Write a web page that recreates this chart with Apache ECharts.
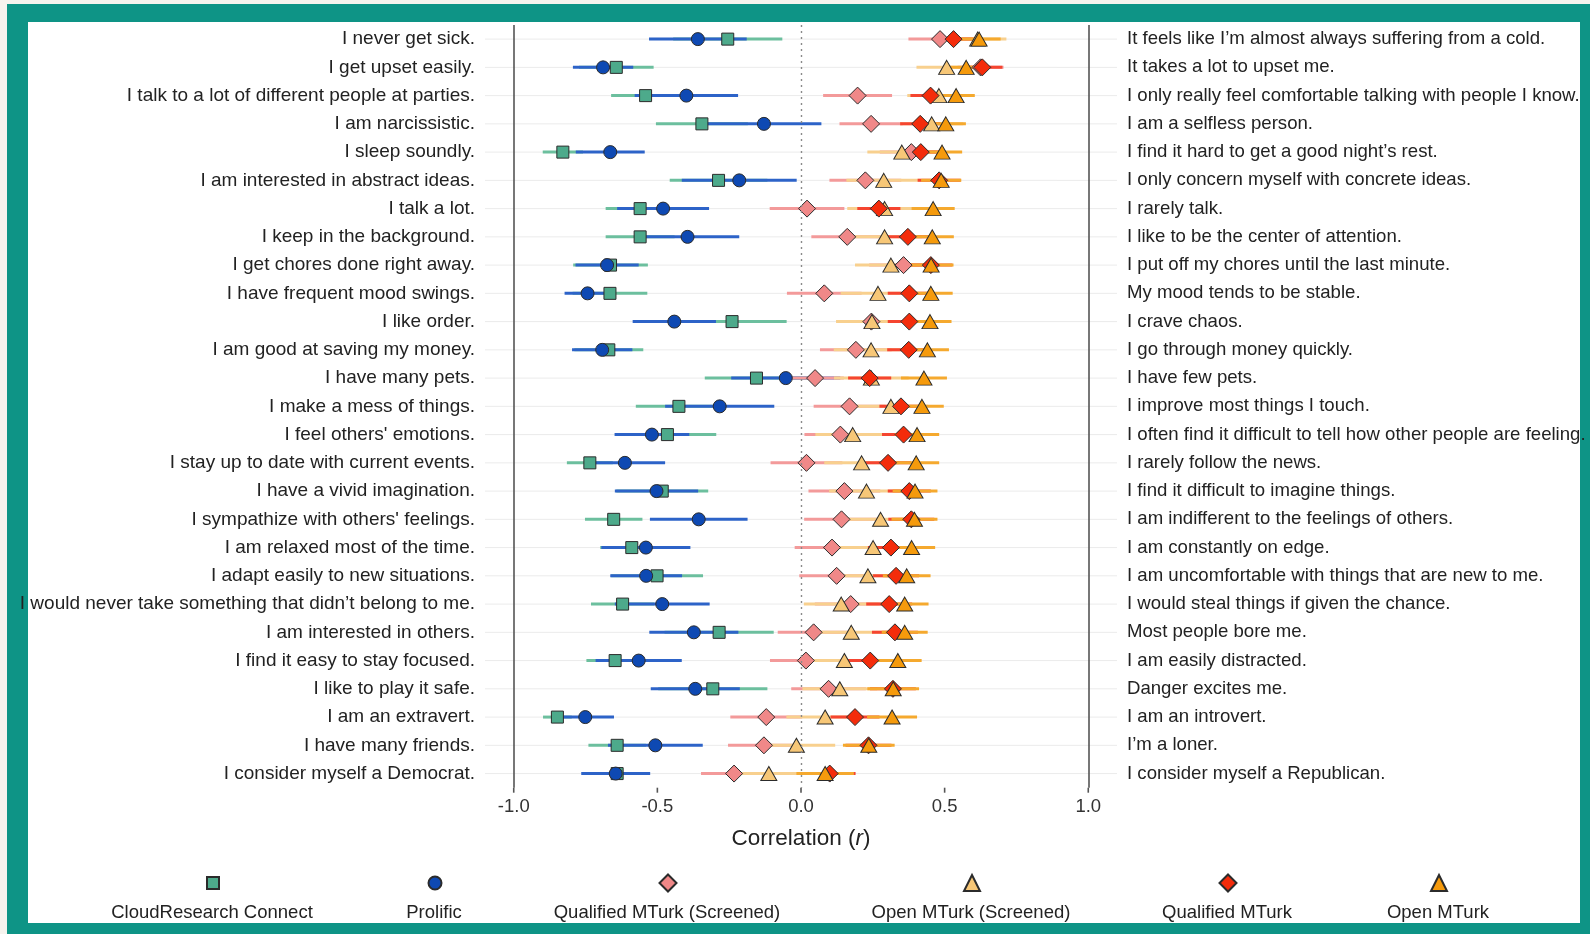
<!DOCTYPE html>
<html>
<head>
<meta charset="utf-8">
<script src="https://cdn.jsdelivr.net/npm/echarts@6/dist/echarts.min.js"></script>
<style>
  html, body { margin:0; padding:0; width:1590px; height:934px; background:#f6f3ee; overflow:hidden; }
  #frame { position:absolute; left:7px; top:4px; width:1583px; height:930px; background:#0e9486; }
  #panel { position:absolute; left:28px; top:22px; width:1552px; height:901px; background:#ffffff; }
  #chart { position:absolute; left:0; top:0; width:1590px; height:934px; }
</style>
</head>
<body>
<div id="frame"></div>
<div id="panel"></div>
<div id="chart"></div>
<script>
// ---------------- DATA ----------------
const leftLabels = [
  "I never get sick.",
  "I get upset easily.",
  "I talk to a lot of different people at parties.",
  "I am narcissistic.",
  "I sleep soundly.",
  "I am interested in abstract ideas.",
  "I talk a lot.",
  "I keep in the background.",
  "I get chores done right away.",
  "I have frequent mood swings.",
  "I like order.",
  "I am good at saving my money.",
  "I have many pets.",
  "I make a mess of things.",
  "I feel others' emotions.",
  "I stay up to date with current events.",
  "I have a vivid imagination.",
  "I sympathize with others' feelings.",
  "I am relaxed most of the time.",
  "I adapt easily to new situations.",
  "I would never take something that didn\u2019t belong to me.",
  "I am interested in others.",
  "I find it easy to stay focused.",
  "I like to play it safe.",
  "I am an extravert.",
  "I have many friends.",
  "I consider myself a Democrat."
];
const rightLabels = [
  "It feels like I\u2019m almost always suffering from a cold.",
  "It takes a lot to upset me.",
  "I only really feel comfortable talking with people I know.",
  "I am a selfless person.",
  "I find it hard to get a good night\u2019s rest.",
  "I only concern myself with concrete ideas.",
  "I rarely talk.",
  "I like to be the center of attention.",
  "I put off my chores until the last minute.",
  "My mood tends to be stable.",
  "I crave chaos.",
  "I go through money quickly.",
  "I have few pets.",
  "I improve most things I touch.",
  "I often find it difficult to tell how other people are feeling.",
  "I rarely follow the news.",
  "I find it difficult to imagine things.",
  "I am indifferent to the feelings of others.",
  "I am constantly on edge.",
  "I am uncomfortable with things that are new to me.",
  "I would steal things if given the chance.",
  "Most people bore me.",
  "I am easily distracted.",
  "Danger excites me.",
  "I am an introvert.",
  "I\u2019m a loner.",
  "I consider myself a Republican."
];
const seriesNames = ["CloudResearch Connect", "Prolific", "Qualified MTurk (Screened)", "Open MTurk (Screened)", "Qualified MTurk", "Open MTurk"];

const connect      = [-0.255,-0.643,-0.541,-0.345,-0.829,-0.287,-0.560,-0.560,-0.663,-0.665,-0.240,-0.669,-0.155,-0.425,-0.465,-0.735,-0.483,-0.652,-0.589,-0.501,-0.621,-0.285,-0.647,-0.307,-0.848,-0.640,-0.640];
const connectCI    = [0.19,0.13,0.12,0.16,0.07,0.17,0.12,0.12,0.13,0.13,0.19,0.12,0.18,0.15,0.17,0.08,0.16,0.10,0.11,0.16,0.11,0.19,0.10,0.19,0.05,0.10,0.10];
const prolific     = [-0.359,-0.689,-0.399,-0.129,-0.664,-0.215,-0.480,-0.395,-0.675,-0.743,-0.441,-0.692,-0.053,-0.283,-0.519,-0.613,-0.503,-0.356,-0.540,-0.539,-0.483,-0.373,-0.565,-0.368,-0.751,-0.507,-0.645];
const prolificCI   = [0.17,0.105,0.18,0.20,0.12,0.20,0.16,0.18,0.11,0.08,0.145,0.105,0.19,0.19,0.13,0.14,0.145,0.17,0.155,0.125,0.165,0.155,0.15,0.155,0.10,0.165,0.12];
const qualScreened   = [0.484,0.625,0.197,0.244,0.384,0.224,0.021,0.161,0.357,0.081,0.245,0.191,0.049,0.169,0.137,0.019,0.151,0.141,0.108,0.124,0.173,0.044,0.017,0.096,-0.121,-0.129,-0.233];
const qualScreenedCI = [0.11,0.08,0.12,0.11,0.11,0.125,0.13,0.125,0.12,0.13,0.12,0.125,0.10,0.125,0.125,0.125,0.125,0.13,0.13,0.13,0.125,0.125,0.125,0.13,0.125,0.125,0.115];
const openScreened   = [0.615,0.507,0.480,0.455,0.351,0.288,0.291,0.291,0.313,0.268,0.247,0.244,0.245,0.313,0.180,0.211,0.228,0.277,0.251,0.233,0.140,0.175,0.151,0.135,0.084,-0.016,-0.112];
const openScreenedCI = [0.10,0.105,0.11,0.11,0.12,0.13,0.13,0.13,0.125,0.13,0.125,0.13,0.13,0.13,0.13,0.13,0.13,0.13,0.13,0.13,0.13,0.13,0.13,0.13,0.135,0.135,0.135];
const qualMTurk      = [0.531,0.631,0.451,0.415,0.417,0.481,0.271,0.372,0.452,0.377,0.377,0.375,0.239,0.348,0.357,0.303,0.377,0.384,0.313,0.331,0.307,0.327,0.241,0.320,0.188,0.235,0.100];
const qualMTurkCI    = [0.07,0.07,0.07,0.07,0.07,0.075,0.075,0.075,0.075,0.075,0.075,0.075,0.075,0.075,0.075,0.08,0.075,0.08,0.08,0.08,0.08,0.08,0.08,0.08,0.085,0.08,0.09];
const openMTurk      = [0.620,0.575,0.540,0.504,0.491,0.488,0.460,0.457,0.453,0.452,0.449,0.440,0.428,0.421,0.404,0.401,0.397,0.395,0.385,0.368,0.361,0.361,0.337,0.321,0.317,0.236,0.084];
const openMTurkCI    = [0.075,0.07,0.065,0.07,0.07,0.07,0.075,0.075,0.078,0.076,0.075,0.075,0.08,0.076,0.077,0.08,0.078,0.08,0.082,0.083,0.083,0.08,0.083,0.09,0.087,0.09,0.10];

const xTickValues = [-1.0, -0.5, 0.0, 0.5, 1.0];
const tickMin = -1.0, tickMax = 1.0, tickStep = 0.5;
const xMin = -1.1, xMax = 1.1;

// ---------------- STYLE ----------------
const FONT = "'Liberation Sans', Arial, sans-serif";
const styles = [
  { fill:'#4DAA8B', line:'#6CBF9E', symbol:'rect',     size:[12,12], legend:12 },
  { fill:'#0E49B3', line:'#2D63C8', symbol:'circle',   size:[13,13], legend:13 },
  { fill:'#F08888', line:'#F39A9A', symbol:'diamond',  size:[17,17], legend:17 },
  { fill:'#F7C777', line:'#F8D08E', symbol:'triangle', size:[16,14], legend:16 },
  { fill:'#F42C0B', line:'#F54530', symbol:'diamond',  size:[17,17], legend:17 },
  { fill:'#F59A0C', line:'#F5A92E', symbol:'triangle', size:[16,14], legend:16 }
];
const values = [connect, prolific, qualScreened, openScreened, qualMTurk, openMTurk];
const cis    = [connectCI, prolificCI, qualScreenedCI, openScreenedCI, qualMTurkCI, openMTurkCI];

// plot panel geometry (x from xMin to xMax)
const G = { left:485, width:632, top:25, height:762.7 };
const pxPerUnit = G.width / (xMax - xMin);
const G2 = { left: G.left + (tickMin - xMin) * pxPerUnit, width: (tickMax - tickMin) * pxPerUnit, top:G.top, height:G.height };

const chart = echarts.init(document.getElementById('chart'), null, {renderer:'canvas'});

const series = [];
// horizontal gridlines + reference lines
series.push({
  type:'custom', name:'grid', silent:true, z:1,
  data: leftLabels.map((_, i) => [i]),
  encode:{ y:0 },
  renderItem: function(params, api){
    const a = api.coord([xMin, api.value(0)]);
    const b = api.coord([xMax, api.value(0)]);
    return { type:'line', shape:{x1:a[0], y1:a[1], x2:b[0], y2:b[1]}, style:{stroke:'#ebebeb', lineWidth:1} };
  },
  markLine:{
    silent:true, symbol:'none', label:{show:false}, animation:false,
    data:[
      { xAxis:-1, lineStyle:{color:'#555', width:1.6, type:'solid'} },
      { xAxis: 1, lineStyle:{color:'#555', width:1.6, type:'solid'} },
      { xAxis: 0, lineStyle:{color:'#8a8a8a', width:1.4, type:[2,4]} }
    ]
  }
});
// x-axis tick marks under the panel
series.push({
  type:'custom', name:'xticks', silent:true, z:1, clip:false,
  data: xTickValues.map(v => [v, leftLabels.length - 1]),
  encode:{ x:0, y:1 },
  renderItem: function(params, api){
    const p = api.coord([api.value(0), api.value(1)]);
    const band = api.size([0, 1])[1];
    const y0 = p[1] + band / 2;
    return { type:'line', shape:{x1:p[0], y1:y0, x2:p[0], y2:y0 + 5}, style:{stroke:'#555', lineWidth:1.6} };
  }
});
// CI lines
values.forEach((vals, s) => {
  series.push({
    type:'custom', name: seriesNames[s] + ' CI', silent:true, z:2,
    data: vals.map((v, i) => [v - cis[s][i], v + cis[s][i], i]),
    encode:{ x:[0,1], y:2 },
    renderItem: function(params, api){
      const a = api.coord([api.value(0), api.value(2)]);
      const b = api.coord([api.value(1), api.value(2)]);
      return { type:'line', shape:{x1:a[0], y1:a[1], x2:b[0], y2:b[1]}, style:{stroke:styles[s].line, lineWidth:3} };
    }
  });
});
// points
values.forEach((vals, s) => {
  series.push({
    type:'scatter', name: seriesNames[s], z:3,
    symbol: styles[s].symbol, symbolSize: styles[s].size,
    itemStyle:{ color: styles[s].fill, borderColor:'#2b2b2b', borderWidth:1, opacity:1 },
    data: vals.map((v, i) => [v, i])
  });
});

const legendCenters = [212, 434, 667, 971, 1227, 1438];
const legends = seriesNames.map((n, s) => ({
  data:[n], selectedMode:false, orient:'horizontal',
  left: legendCenters[s] - styles[s].legend / 2, top: 882 - styles[s].legend / 2,
  itemWidth:styles[s].legend, itemHeight:styles[s].legend, itemGap:0, padding:0,
  formatter: function(){ return ''; },
  textStyle:{ fontSize:1 }
}));

const graphics = seriesNames.map((n, s) => ({
  type:'text', x: legendCenters[s], y: 913,
  style:{ text:n, textAlign:'center', textVerticalAlign:'middle', fontSize:18.5, fontFamily:FONT, fill:'#222' }
}));

chart.setOption({
  animation:false,
  backgroundColor:'transparent',
  grid:[
    { left:G.left, width:G.width, top:G.top, height:G.height, containLabel:false, outerBoundsMode:'none' },
    { left:G2.left, width:G2.width, top:G2.top, height:G2.height, containLabel:false, outerBoundsMode:'none' }
  ],
  xAxis:[
    { type:'value', gridIndex:0, min:xMin, max:xMax,
      axisLine:{ show:false }, splitLine:{ show:false }, axisTick:{ show:false }, axisLabel:{ show:false } },
    { type:'value', gridIndex:1, min:tickMin, max:tickMax, interval:tickStep, position:'bottom',
      axisLine:{ show:false, onZero:false },
      splitLine:{ show:false },
      axisTick:{ show:false },
      axisLabel:{ show:true, formatter: v => v.toFixed(1), fontSize:18.5, fontFamily:FONT, color:'#333', margin:10 },
      name:'Correlation ({i|r})', nameLocation:'middle', nameGap:40,
      nameTextStyle:{ fontSize:22.5, fontFamily:FONT, color:'#222', rich:{ i:{ fontStyle:'italic', fontSize:22.5, fontFamily:FONT, color:'#222' } } } }
  ],
  yAxis:[
    { type:'category', gridIndex:0, data:leftLabels, inverse:true, position:'left',
      axisLine:{show:false}, axisTick:{show:false}, splitLine:{show:false},
      axisLabel:{ fontSize:19, fontFamily:FONT, color:'#222', margin:10 } },
    { type:'category', gridIndex:0, data:rightLabels, inverse:true, position:'right',
      axisLine:{show:false}, axisTick:{show:false}, splitLine:{show:false},
      axisLabel:{ fontSize:18.6, fontFamily:FONT, color:'#222', margin:10 } },
    { type:'value', gridIndex:1, min:0, max:1, show:false }
  ],
  legend: legends,
  graphic: graphics,
  series: series
});
</script>
</body>
</html>
